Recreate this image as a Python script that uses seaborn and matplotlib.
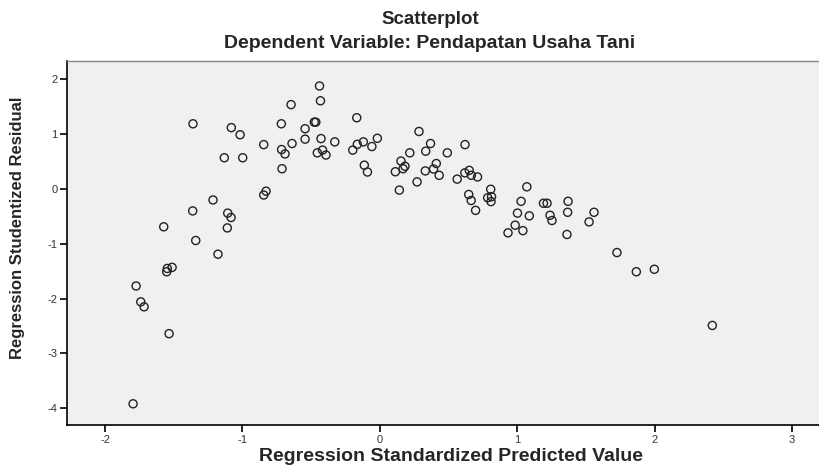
import matplotlib
matplotlib.use('Agg')
import matplotlib.pyplot as plt
import seaborn as sns
import pandas as pd

# Regression standardized predicted value (x) vs studentized residual (y)
pred_value = [
    -0.646, -1.360, -0.717, -1.081, -0.544, -1.017, -0.845, -0.639, -0.544, -0.715,
    -0.690, -1.132, -0.998, -0.712, -0.828, -0.845, -1.214, -1.362, -1.107, -1.083,
    -1.573, -1.110, -1.340, -1.178, -1.512, -1.547, -1.551, -1.774, -1.740, -1.716,
    -1.534, -1.796, -0.439, -0.432, -0.477, -0.466, -0.428, -0.328, -0.168, -0.455,
    -0.417, -0.392, -0.197, -0.164, -0.120, -0.058, -0.018, -0.113, -0.090, 0.285,
    0.369, 0.218, 0.334, 0.491, 0.154, 0.183, 0.169, 0.113, 0.411, 0.391,
    0.331, 0.432, 0.271, 0.142, 0.620, 0.651, 0.619, 0.666, 0.711, 0.563,
    0.807, 0.647, 0.665, 0.785, 0.813, 0.809, 0.697, 1.070, 1.028, 1.002,
    1.088, 0.985, 1.041, 0.933, 1.191, 1.217, 1.370, 1.239, 1.253, 1.367,
    1.559, 1.523, 1.362, 1.726, 1.867, 1.998, 2.420,
]
stud_resid = [
    1.54, 1.19, 1.19, 1.12, 1.10, 0.99, 0.81, 0.83, 0.91, 0.72,
    0.64, 0.57, 0.57, 0.37, -0.04, -0.11, -0.20, -0.40, -0.44, -0.52,
    -0.69, -0.71, -0.94, -1.19, -1.43, -1.45, -1.51, -1.77, -2.06, -2.15,
    -2.64, -3.92, 1.88, 1.61, 1.22, 1.22, 0.92, 0.86, 1.30, 0.66,
    0.71, 0.62, 0.71, 0.815, 0.86, 0.775, 0.925, 0.435, 0.31, 1.05,
    0.83, 0.66, 0.69, 0.66, 0.51, 0.415, 0.37, 0.315, 0.465, 0.365,
    0.33, 0.25, 0.13, -0.02, 0.81, 0.34, 0.295, 0.25, 0.22, 0.18,
    -0.005, -0.10, -0.21, -0.16, -0.14, -0.23, -0.39, 0.04, -0.225, -0.44,
    -0.49, -0.66, -0.76, -0.80, -0.26, -0.26, -0.225, -0.48, -0.575, -0.425,
    -0.425, -0.60, -0.83, -1.16, -1.51, -1.465, -2.49,
]
x_ticks = [-2, -1, 0, 1, 2, 3]
y_ticks = [2, 1, 0, -1, -2, -3, -4]

df = pd.DataFrame({'pred': pred_value, 'resid': stud_resid})

sns.set_style('ticks')
plt.rcParams['font.family'] = ['Liberation Sans', 'DejaVu Sans']

fig = plt.figure(figsize=(8.19, 4.74), dpi=100)
# plot frame runs a bit past the right edge, as in the cropped original
ax = fig.add_axes([67 / 819, 1 - 425 / 474, (835 - 67) / 819, (425 - 61) / 474])
ax.set_facecolor('#f0f0f0')

sns.scatterplot(data=df, x='pred', y='resid', ax=ax, marker='o',
                facecolor='none', edgecolor='#222222', linewidth=1.0, s=34)

ax.set_xlim(-2.277, 3.313)
ax.set_ylim(-4.307, 2.336)
ax.set_xticks(x_ticks)
ax.set_yticks(y_ticks)
ax.set_xticklabels([str(t) for t in x_ticks])
ax.set_yticklabels([str(t) for t in y_ticks])
ax.tick_params(axis='both', direction='out', length=5, width=1.2, color='black',
               labelsize=8, labelcolor='#333333', pad=2)

for side in ['left', 'bottom']:
    ax.spines[side].set_color('black')
    ax.spines[side].set_linewidth(1.2)
ax.spines['top'].set_color('#888888')
ax.spines['top'].set_linewidth(1.0)
ax.spines['right'].set_visible(False)

ax.set_xlabel('Regression Standardized Predicted Value', fontsize=14,
              fontweight='bold')
ax.xaxis.set_label_coords(0.5, (425 - 448) / 364)
ax.set_ylabel('')
fig.text(18 / 819, 1 - 228 / 474, 'Regression Studentized Residual',
         rotation=90, ha='center', va='center', fontsize=12, fontweight='bold')

fig.text(430 / 819, 1 - 20 / 474, 'Scatterplot', ha='center', va='center',
         fontsize=13.5, fontweight='bold')
fig.text(430 / 819, 1 - 43 / 474, 'Dependent Variable: Pendapatan Usaha Tani',
         ha='center', va='center', fontsize=14, fontweight='bold')

fig.savefig('out.png', dpi=100)
